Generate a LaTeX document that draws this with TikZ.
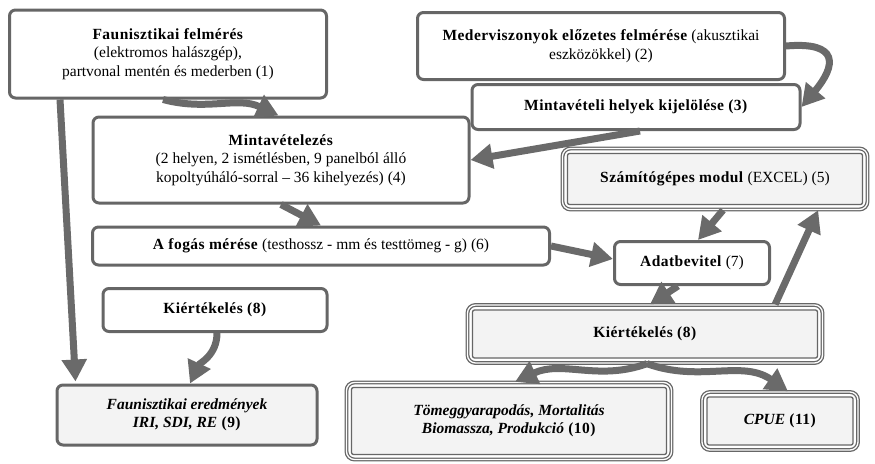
\documentclass[tikz,border=0pt]{standalone}
\usepackage{fontspec}
\setmainfont{Liberation Serif}[BoldFeatures={LetterSpace=3}]
\usetikzlibrary{arrows.meta}
\definecolor{framegray}{HTML}{666666}
\definecolor{arrowgray}{HTML}{6A6A6A}
\definecolor{panelgray}{HTML}{F3F3F3}
\tikzset{
  box/.style={draw=framegray, line width=3pt, rounded corners=6pt, fill=white,
    align=center, inner sep=0pt, font=\fontsize{15.5}{18.5}\selectfont},
  dbox/.style={box, line width=1.3pt, double=white, double distance=1.3pt,
    rounded corners=8pt,
    path picture={\draw[framegray, line width=1.3pt, fill=panelgray, rounded corners=2pt]
      ([xshift=5pt,yshift=5pt]path picture bounding box.south west) rectangle
      ([xshift=-5pt,yshift=-5pt]path picture bounding box.north east);}},
  flow/.style={draw=arrowgray, line width=7pt, -{Triangle[length=22pt,width=24pt]}}
}
\begin{document}
\begin{tikzpicture}[x=1pt,y=1pt]
    \useasboundingbox (0,0) rectangle (875,-463);
    % Upper boxes
    \node[box, minimum width=317pt, minimum height=88pt] (faun) at (168,-54)
        {\textbf{Faunisztikai felmérés}\\(elektromos halászgép),\\partvonal mentén és mederben (1)};
    \node[box, minimum width=367pt, minimum height=67pt] (meder) at (601,-46)
        {\textbf{Mederviszonyok előzetes felmérése} (akusztikai\\eszközökkel) (2)};
    \node[box, minimum width=328pt, minimum height=45pt] (kijel) at (636,-107)
        {\textbf{Mintavételi helyek kijelölése (3)}};
    \node[box, minimum width=376pt, minimum height=86pt] (minta) at (281,-160)
        {\textbf{Mintavételezés}\\(2 helyen, 2 ismétlésben, 9 panelból álló\\kopoltyúháló-sorral -- 36 kihelyezés) (4)};
    \node[dbox, minimum width=305pt, minimum height=61pt] (excel) at (715,-179)
        {\textbf{Számítógépes modul} (EXCEL) (5)};
    % Middle boxes
    \node[box, minimum width=457pt, minimum height=38pt] (fogas) at (321,-246)
        {\textbf{A fogás mérése} (testhossz - mm és testtömeg - g) (6)};
    \node[box, minimum width=155pt, minimum height=43pt] (adat) at (692,-263)
        {\textbf{Adatbevitel} (7)};
    \node[box, minimum width=224pt, minimum height=43pt] (kiertA) at (215,-310)
        {\textbf{Kiértékelés (8)}};
    \node[dbox, minimum width=355pt, minimum height=58pt] (kiertB) at (645,-334)
        {\textbf{Kiértékelés (8)}};
    % Result boxes
    \node[box, fill=panelgray, minimum width=260pt, minimum height=60pt] (eredm) at (187,-415)
        {\textbf{\textit{Faunisztikai eredmények}}\\\textbf{\textit{IRI, SDI, RE} (9)}};
    \node[dbox, minimum width=325pt, minimum height=77pt] (tomeg) at (509,-421)
        {\textbf{\textit{Tömeggyarapodás, Mortalitás}}\\\textbf{\textit{Biomassza, Produkció} (10)}};
    \node[dbox, minimum width=156pt, minimum height=58pt] (cpue) at (780,-421)
        {\textbf{\textit{CPUE} (11)}};

    % Arrows
    \draw[flow] ([xshift=52pt]faun.south west) -- ([xshift=20pt,yshift=2pt]eredm.north west);
    \draw[flow] ([xshift=155pt]faun.south west) to[out=-15,in=155] ([xshift=187pt]minta.north west);
    \draw[flow] (meder.east) to[out=5,in=50,looseness=2.2] (kijel.east);
    \draw[flow] ([xshift=4pt]kijel.south) -- (minta.east);
    \draw[flow] (minta.south) -- (fogas.north);
    \draw[flow] (fogas.east) -- ([yshift=4pt]adat.west);
    \draw[flow] ([xshift=8pt]excel.south) -- ([xshift=6pt]adat.north);
    \draw[flow] ([xshift=-14pt]adat.south) -- ([xshift=5pt]kiertB.north);
    \draw[flow] ([xshift=-48pt]kiertB.north east) -- ([xshift=-50pt]excel.south east);
    \draw[flow] ([xshift=2pt]kiertA.south) to[out=-90,in=65] ([xshift=3pt]eredm.north);
    \draw[flow] ([xshift=2pt]kiertB.south) to[out=200,in=25] ([xshift=6pt]tomeg.north);
    \draw[flow] ([xshift=2pt]kiertB.south) to[out=-20,in=145] ([xshift=8pt]cpue.north);
\end{tikzpicture}
\end{document}
